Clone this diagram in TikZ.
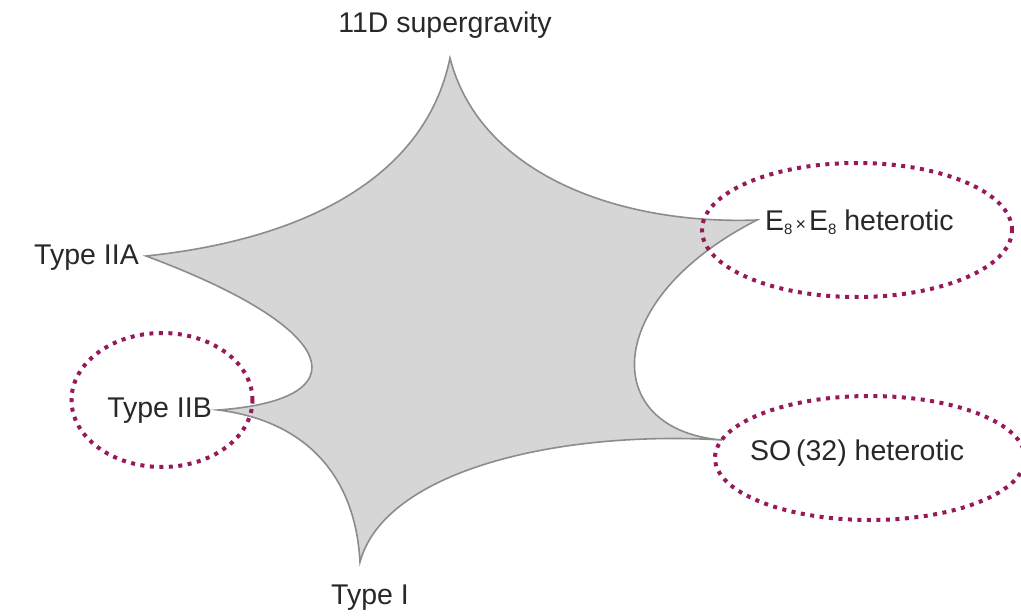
\documentclass[tikz,border=0pt]{standalone}
\usepackage{fontspec}
\setmainfont{Liberation Sans}
\usetikzlibrary{shapes.geometric}
\definecolor{dotc}{RGB}{150,25,90}
\definecolor{starfill}{RGB}{214,214,214}
\definecolor{stardraw}{RGB}{140,140,140}
\definecolor{txt}{RGB}{40,40,40}
\newcommand{\subeight}{\raisebox{-0.28ex}{\fontsize{15}{16}\selectfont 8}}
\begin{document}
\begin{tikzpicture}[x=1pt,y=-1pt,
  lbl/.style={inner sep=0pt,text=txt,font=\fontsize{28.5}{32}\selectfont},
  ring/.style={draw=dotc,line width=4pt,dash pattern=on 4pt off 5.5pt}]
\useasboundingbox (0,0) rectangle (1021,616);
% star
\coordinate (top) at (450,58);
\coordinate (e8) at (757,220);
\coordinate (so) at (722,440);
\coordinate (t1) at (360,562);
\coordinate (iib) at (218,410);
\coordinate (iia) at (146,256);
\draw[fill=starfill,draw=stardraw,line width=1.6pt,line join=miter]
  (top) .. controls (480,175) and (620,225) .. (e8)
  .. controls (600,300) and (600,430) .. (so)
  .. controls (560,430) and (385,470) .. (t1)
  .. controls (355,470) and (300,420) .. (iib)
  .. controls (360,400) and (345,330) .. (iia)
  .. controls (300,240) and (425,180) .. cycle;
% labels
\node[lbl] (l11) at (445,25) {11D supergravity};
\node[lbl,anchor=east] (liia) at (139,258) {Type IIA};
\node[lbl,anchor=east] (liib) at (212,411) {Type IIB};
\node[lbl] (lt1) at (370,598) {Type I};
\node[lbl,anchor=west] (le8) at (765,222) {E\subeight{\fontsize{18}{20}\selectfont\,×\,}E\subeight\ heterotic};
\node[lbl,anchor=west] (lso) at (750,453) {SO\,(32) heterotic};
% rings
\node[ring,ellipse,minimum width=310pt,minimum height=134pt,inner sep=0pt] (r1) at (857,230) {};
\node[ring,ellipse,minimum width=310pt,minimum height=124pt,inner sep=0pt] (r2) at (870,458) {};
\node[ring,ellipse,minimum width=181pt,minimum height=134pt,inner sep=0pt] (r3) at (162,400) {};
\end{tikzpicture}
\end{document}
